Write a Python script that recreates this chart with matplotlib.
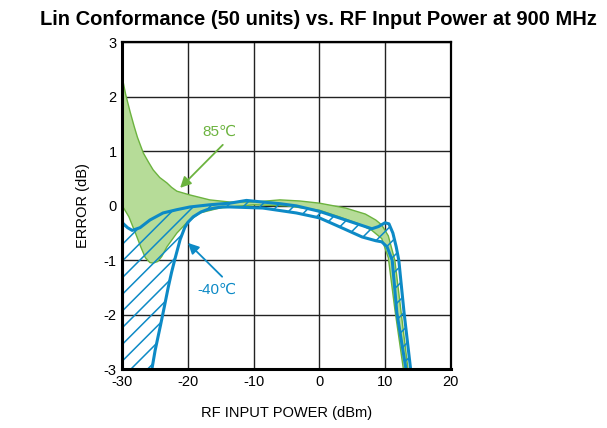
import numpy as np
import matplotlib.pyplot as plt

plt.rcParams['font.family'] = ['Liberation Sans', 'DejaVu Sans']
plt.rcParams['axes.unicode_minus'] = False
plt.rcParams['hatch.linewidth'] = 1.1

# 85°C band (upper / lower edges)
hot_up_x = [-30, -29.5, -28.8, -28.2, -27.7, -26.8, -26, -25.3, -24.3, -23.2, -22.5, -21.7, -19.7, -16.7, -13.6, -10, -6, -3, 0, 4, 7, 8.6, 9.5, 10.5, 11.5, 12.5, 13.5]
hot_up_y = [2.35, 2.05, 1.72, 1.46, 1.26, 0.97, 0.8, 0.66, 0.52, 0.42, 0.34, 0.27, 0.2, 0.11, 0.07, 0.07, 0.11, 0.09, 0.05, -0.04, -0.15, -0.26, -0.35, -0.55, -1.0, -2.0, -3.0]
hot_lo_x = [-30, -29, -28, -27.2, -26.5, -25.8, -25.3, -24.6, -24, -23.2, -21.7, -20.2, -18.2, -15.2, -10, -5, 0, 3, 6, 8, 9.5, 10.5, 11.5, 12.8]
hot_lo_y = [0.0, -0.2, -0.5, -0.75, -0.95, -1.04, -1.05, -1.02, -0.93, -0.75, -0.5, -0.31, -0.13, -0.04, 0.02, 0.0, -0.08, -0.2, -0.33, -0.45, -0.6, -0.95, -1.9, -3.0]

# -40°C band (upper / lower edges)
cold_up_x = [-30, -29.2, -28.5, -27.3, -25.8, -23.8, -21.7, -19.7, -16.7, -13.6, -11.1, -8.6, -6, -3.5, 0, 3, 6.5, 8, 9, 10, 10.6, 11.2, 11.7, 12.1, 12.9, 13.9]
cold_up_y = [-0.31, -0.4, -0.45, -0.4, -0.26, -0.13, -0.07, -0.02, 0.02, 0.05, 0.1, 0.07, 0.04, 0.0, -0.1, -0.22, -0.36, -0.42, -0.38, -0.31, -0.33, -0.5, -0.75, -1.0, -1.96, -3.0]
cold_lo_x = [-30, -25.7, -25.5, -25, -24.2, -23.6, -23, -22.5, -22, -21.2, -20.5, -20, -19.2, -18, -17.1, -16, -14.7, -13.6, -8.6, -3.5, 0, 3, 6.5, 8.6, 9.5, 10.3, 11.1, 11.8, 13.2]
cold_lo_y = [-3.3, -3.3, -3.0, -2.65, -2.2, -1.85, -1.49, -1.22, -0.98, -0.62, -0.4, -0.3, -0.2, -0.11, -0.07, -0.04, -0.02, -0.02, -0.04, -0.13, -0.22, -0.38, -0.57, -0.64, -0.66, -0.75, -1.0, -1.96, -3.0]

xticks = [-30, -20, -10, 0, 10, 20]
yticks = [-3, -2, -1, 0, 1, 2, 3]

green = '#6cb33f'
green_fill = '#b6dc98'
blue = '#0d8ac6'

fig = plt.figure(figsize=(6.07, 4.28), dpi=100)
ax = fig.add_axes([0.2015, 0.137, 0.541, 0.764])

# grille
for xv in xticks:
    ax.axvline(xv, color='#222222', lw=1.0, zorder=1)
for yv in yticks:
    ax.axhline(yv, color='#222222', lw=1.0, zorder=1)

# bande 85°C
poly_x = np.concatenate([hot_up_x, hot_lo_x[::-1]])
poly_y = np.concatenate([hot_up_y, hot_lo_y[::-1]])
ax.fill(poly_x, poly_y, facecolor=green_fill, edgecolor=green, lw=1.0, zorder=2)

# bande -40°C, hachurée
poly_x = np.concatenate([cold_up_x, cold_lo_x[::-1]])
poly_y = np.concatenate([cold_up_y, cold_lo_y[::-1]])
ax.fill(poly_x, poly_y, facecolor='none', edgecolor=blue, hatch='//', lw=0, zorder=3)
ax.plot(cold_up_x, cold_up_y, color=blue, lw=2.2, zorder=4)
ax.plot(cold_lo_x, cold_lo_y, color=blue, lw=2.2, zorder=4)
ax.plot([cold_up_x[0], cold_lo_x[0]], [cold_up_y[0], cold_lo_y[0]], color=blue, lw=2.2, zorder=4)

# annotations
ax.text(-15.2, 1.36, '85℃', color=green, fontsize=11, ha='center', va='center')
ax.annotate('', xy=(-21.2, 0.33), xytext=(-14.7, 1.12),
            arrowprops=dict(arrowstyle='-|>', color=green, lw=1.3, mutation_scale=16,
                            shrinkA=0, shrinkB=0), zorder=6)
ax.text(-15.6, -1.54, '-40℃', color=blue, fontsize=11, ha='center', va='center')
ax.annotate('', xy=(-20.0, -0.68), xytext=(-14.8, -1.3),
            arrowprops=dict(arrowstyle='-|>', color=blue, lw=1.3, mutation_scale=16,
                            shrinkA=0, shrinkB=0), zorder=6)

ax.set_xlim(-30, 20)
ax.set_ylim(-3, 3)
ax.set_xticks(xticks)
ax.set_yticks(yticks)
ax.tick_params(length=0, labelsize=10.5, pad=4)
for side in ['left', 'bottom']:
    ax.spines[side].set_linewidth(2.2)
for side in ['top', 'right']:
    ax.spines[side].set_linewidth(1.6)
for s in ax.spines.values():
    s.set_zorder(7)

ax.set_xlabel('RF INPUT POWER (dBm)', fontsize=10.5, labelpad=12)
ax.set_ylabel('ERROR (dB)', fontsize=10.5, labelpad=10)
fig.suptitle('Lin Conformance (50 units) vs. RF Input Power at 900 MHz',
             fontsize=14.5, fontweight='bold', x=0.525, y=0.977)

fig.savefig('out.png', dpi=100)
